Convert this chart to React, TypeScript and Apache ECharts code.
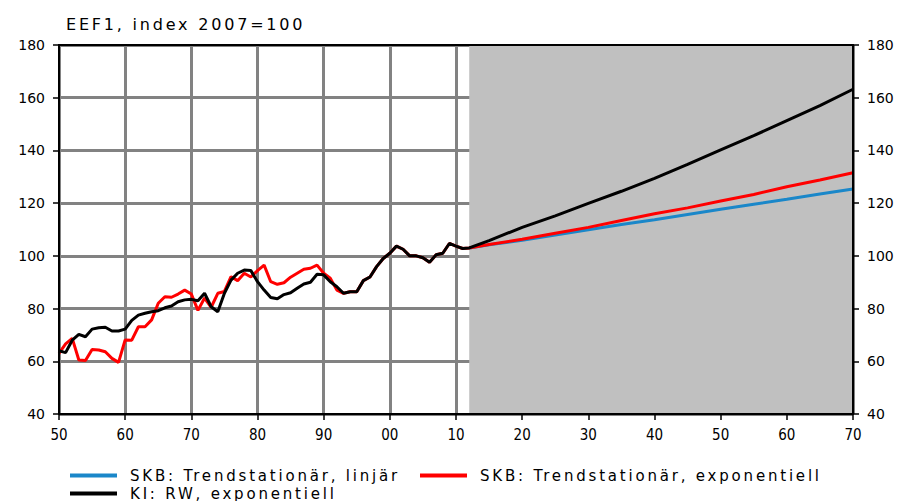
import React, { useEffect, useRef } from "react";
import * as echarts from "echarts";

// ---- Data ----
const TITLE = "EEF1, index 2007=100";
const SERIES_LINEAR = "SKB: Trendstationär, linjär";
const SERIES_EXP = "SKB: Trendstationär, exponentiell";
const SERIES_RW = "KI: RW, exponentiell";

const HIST_START_YEAR = 1950;
const FORECAST_START = 2012;
const X_MIN = 1950;
const X_MAX = 2070;
const Y_MIN = 40;
const Y_MAX = 180;

// historical, 1950..2012
const histRW = [
  64.0, 63.3, 68.0, 70.2, 69.3, 72.2, 72.7, 72.9, 71.5, 71.5,
  72.2, 75.5, 77.5, 78.2, 78.8, 79.2, 80.3, 81.0, 82.6, 83.3,
  83.5, 83.0, 85.8, 80.7, 78.8, 85.8, 90.8, 93.4, 94.6, 94.4,
  90.2, 87.0, 84.2, 83.7, 85.3, 86.0, 87.7, 89.3, 90.0, 93.0,
  92.8, 90.2, 88.3, 85.8, 86.4, 86.4, 90.6, 92.0, 95.9, 99.0,
  101.0, 103.7, 102.5, 100.0, 100.0, 99.3, 97.6, 100.4, 101.0, 104.7,
  103.7, 102.8, 103.0,
];
const histExp = [
  63.0, 66.6, 68.7, 60.5, 60.3, 64.5, 64.3, 63.6, 61.1, 59.6,
  68.1, 68.0, 73.1, 73.1, 75.7, 82.0, 84.5, 84.3, 85.5, 87.0,
  85.5, 79.3, 84.0, 80.5, 85.8, 86.5, 92.1, 90.6, 93.4, 92.0,
  94.4, 96.5, 90.2, 89.2, 89.8, 91.9, 93.4, 94.9, 95.3, 96.5,
  93.4, 91.5, 87.0, 85.8, 86.4, 86.4, 90.6, 92.0, 95.9, 99.0,
  101.0, 103.7, 102.5, 100.0, 100.0, 99.3, 97.6, 100.4, 101.0, 104.7,
  103.7, 102.8, 103.0,
];

// forecasts
const forecastYears = [2012, 2015, 2020, 2025, 2030, 2035, 2040, 2045, 2050, 2055, 2060, 2065, 2070];
const fcLinear = [103.0, 104.2, 105.9, 107.9, 109.9, 111.9, 113.7, 115.7, 117.7, 119.6, 121.5, 123.5, 125.4];
const fcExp = [103.0, 104.3, 106.3, 108.6, 110.8, 113.4, 116.0, 118.2, 120.8, 123.3, 126.2, 128.8, 131.5];
const fcRW = [103.0, 105.8, 110.8, 115.2, 119.9, 124.5, 129.4, 134.7, 140.2, 145.6, 151.3, 157.0, 163.2];

const histPairs = (vals: number[]) => vals.map((v, i) => [HIST_START_YEAR + i, v]);
const fcPairs = (vals: number[]) => vals.map((v, i) => [forecastYears[i], v]);

const BLUE = "#1a87c9";
const RED = "#ff0000";
const BLACK = "#000000";
const GRID_GREY = "#828282";
const SHADE = "#c0c0c0";
// "Verdana" token marks texts that get wide letter spacing via CSS
const FONT_SPACED = "'DejaVu Sans', Verdana, sans-serif";
const FONT = "'DejaVu Sans', sans-serif";
const FONT_NARROW = "'DejaVu Sans Condensed', 'Liberation Sans Narrow', 'DejaVu Sans', sans-serif";

const CSS = `
.eef-chart svg text[style*="Verdana"], .eef-chart svg text[font-family*="Verdana"] { letter-spacing: 2.8px; }
`;

export default function App() {
  const ref = useRef<HTMLDivElement>(null);
  useEffect(() => {
    if (!ref.current) return;
    const chart = echarts.init(ref.current, undefined, { renderer: "svg" });
    const yAxisBase = {
      type: "value" as const,
      min: Y_MIN,
      max: Y_MAX,
      interval: 20,
      z: 1,
      axisLine: { show: true, lineStyle: { color: BLACK, width: 2 } },
      axisTick: { show: true, inside: false, length: 6, lineStyle: { color: BLACK, width: 1.5 } },
      axisLabel: { color: BLACK, fontSize: 14, fontFamily: FONT, margin: 14 },
    };
    const legendText = { color: BLACK, fontSize: 15, fontFamily: FONT_SPACED, padding: [0, 0, 0, 8] };
    const legendBase = {
      orient: "horizontal" as const,
      padding: 0,
      icon: "rect",
      itemWidth: 47,
      itemHeight: 4,
      textStyle: legendText,
      selectedMode: false,
    };
    chart.setOption({
      animation: false,
      backgroundColor: "#ffffff",
      title: {
        text: TITLE,
        left: 66,
        top: 16,
        padding: 0,
        textStyle: { fontSize: 16, fontWeight: "normal", fontFamily: FONT_SPACED, color: BLACK },
      },
      grid: {
        left: 59,
        right: 50,
        top: 45,
        bottom: 87,
        show: true,
        backgroundColor: "transparent",
        borderColor: BLACK,
        borderWidth: 2,
        z: 5,
      },
      legend: [
        { ...legendBase, left: 70, top: 468, data: [SERIES_LINEAR] },
        { ...legendBase, left: 420, top: 468, data: [SERIES_EXP] },
        { ...legendBase, left: 70, top: 486, data: [SERIES_RW] },
      ],
      xAxis: {
        type: "value",
        min: X_MIN,
        max: X_MAX,
        interval: 10,
        z: 1,
        axisLine: { show: true, lineStyle: { color: BLACK, width: 2 } },
        axisTick: { show: true, inside: false, length: 6, lineStyle: { color: BLACK, width: 1.5 } },
        axisLabel: {
          color: BLACK,
          fontSize: 15,
          fontFamily: FONT_NARROW,
          margin: 13,
          formatter: (v: number) => String(v % 100).padStart(2, "0"),
        },
        splitLine: { show: true, lineStyle: { color: GRID_GREY, width: 3 } },
      },
      yAxis: [
        { ...yAxisBase, position: "left", splitLine: { show: true, lineStyle: { color: GRID_GREY, width: 3 } } },
        { ...yAxisBase, position: "right", splitLine: { show: false } },
      ],
      series: [
        {
          type: "line",
          name: "shade",
          z: 0,
          data: [[FORECAST_START, 103]],
          symbol: "none",
          lineStyle: { opacity: 0 },
          silent: true,
          markArea: {
            silent: true,
            itemStyle: { color: SHADE },
            data: [[{ xAxis: FORECAST_START }, { xAxis: X_MAX }]],
          },
        },
        {
          type: "line",
          name: SERIES_LINEAR,
          z: 2,
          data: fcPairs(fcLinear),
          symbol: "none",
          color: BLUE,
          lineStyle: { color: BLUE, width: 3 },
        },
        {
          type: "line",
          name: SERIES_EXP,
          z: 3,
          data: [...histPairs(histExp), ...fcPairs(fcExp).slice(1)],
          symbol: "none",
          color: RED,
          lineStyle: { color: RED, width: 3 },
        },
        {
          type: "line",
          name: SERIES_RW,
          z: 4,
          data: [...histPairs(histRW), ...fcPairs(fcRW).slice(1)],
          symbol: "none",
          color: BLACK,
          lineStyle: { color: BLACK, width: 3 },
        },
      ],
    });
    return () => chart.dispose();
  }, []);
  return (
    <>
      <style>{CSS}</style>
      <div
        ref={ref}
        className="eef-chart"
        style={{ position: "fixed", left: 0, top: 0, width: 903, height: 501, background: "#fff" }}
      />
    </>
  );
}
